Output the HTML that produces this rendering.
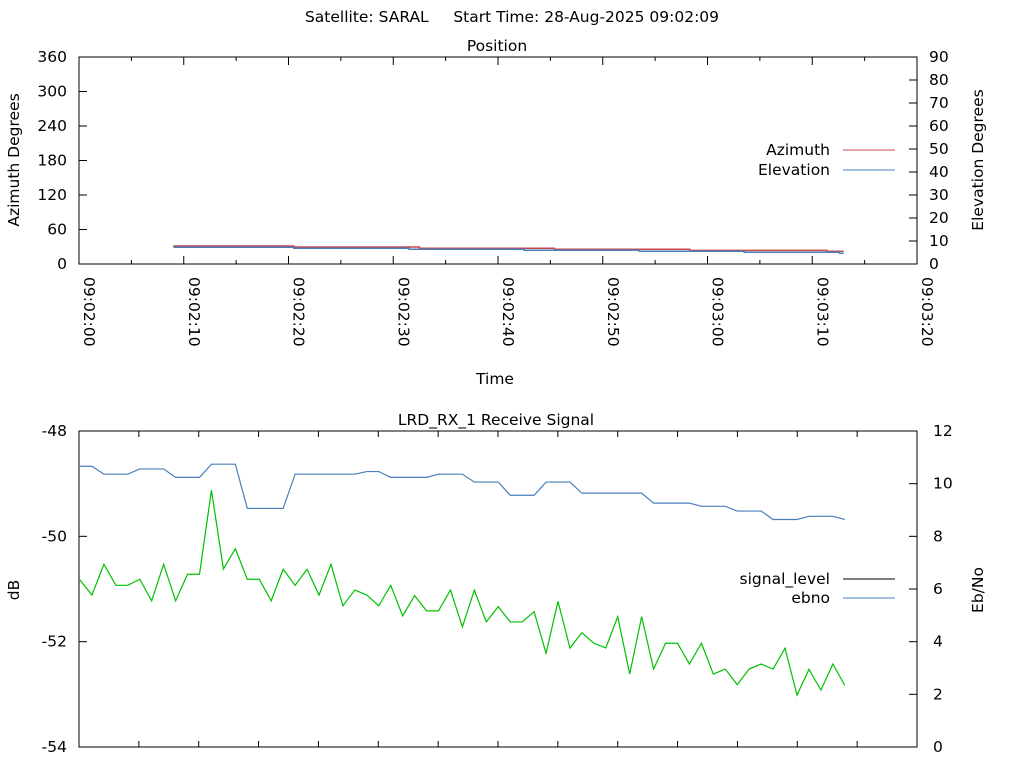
<!DOCTYPE html>
<html><head><meta charset="utf-8"><style>
body{margin:0;background:#fff;}
svg{display:block;font-family:"DejaVu Sans","Liberation Sans",sans-serif;font-size:15.5px;}
text{white-space:pre;}
</style></head><body>
<svg id="c" width="1024" height="768" xmlns="http://www.w3.org/2000/svg">
<text x="512" y="22" text-anchor="middle" xml:space="preserve">Satellite: SARAL     Start Time: 28-Aug-2025 09:02:09</text>
</svg>
<script>
// ---- Position chart data ----
const azBreaks=[9,20.5,32.5,45.4,58.3,71.4,73];
const azValues=[31.3,29.6,27.3,25.6,23.8,22.1];
const elBreaks=[9,20.5,31.5,42.5,53.5,63.5,72.6,73];
const elValues=[7.26,6.83,6.39,5.96,5.52,5.09,4.65];
const azTicks=[0,60,120,180,240,300,360];
const elTicks=[0,10,20,30,40,50,60,70,80,90];
const timeTicks=["09:02:00","09:02:10","09:02:20","09:02:30","09:02:40","09:02:50","09:03:00","09:03:10","09:03:20"];
// ---- Receive signal data ----
const signalLevel=[-48.67,-48.67,-48.82,-48.82,-48.82,-48.72,-48.72,-48.72,-48.88,-48.88,
-48.88,-48.63,-48.63,-48.63,-49.47,-49.47,-49.47,-49.47,-48.82,-48.82,
-48.82,-48.82,-48.82,-48.82,-48.77,-48.77,-48.88,-48.88,-48.88,-48.88,
-48.82,-48.82,-48.82,-48.97,-48.97,-48.97,-49.22,-49.22,-49.22,-48.97,
-48.97,-48.97,-49.18,-49.18,-49.18,-49.18,-49.18,-49.18,-49.37,-49.37,
-49.37,-49.37,-49.43,-49.43,-49.43,-49.52,-49.52,-49.52,-49.68,-49.68,
-49.68,-49.62,-49.62,-49.62,-49.68];
const ebno=[6.34,5.77,6.94,6.14,6.14,6.37,5.55,6.94,5.55,6.56,
6.56,9.75,6.76,7.53,6.37,6.37,5.55,6.75,6.14,6.75,
5.77,6.94,5.36,5.96,5.77,5.36,6.14,4.98,5.75,5.17,
5.17,5.96,4.56,5.96,4.75,5.33,4.75,4.75,5.14,3.56,
5.53,3.76,4.34,3.94,3.76,4.95,2.77,4.95,2.96,3.94,
3.94,3.15,3.94,2.77,2.96,2.37,2.96,3.15,2.96,3.75,
1.97,2.95,2.16,3.15,2.34];
const dbTicks=[-48,-50,-52,-54];
const ebTicks=[0,2,4,6,8,10,12];

const svg=document.getElementById('c');
const NS="http://www.w3.org/2000/svg";
function el(tag,attrs,parent){const e=document.createElementNS(NS,tag);for(const k in attrs)e.setAttribute(k,attrs[k]);(parent||svg).appendChild(e);return e;}
function txt(x,y,s,anchor,extra){const t=el('text',Object.assign({x:x,y:y,'text-anchor':anchor||'start'},extra||{}));t.textContent=s;return t;}

// ===== Top chart =====
const L=79,R=917,T1=57,B1=264;
const tx=t=>L+(R-L)*t/80;
const yAz=v=>B1-(B1-T1)*v/360;
const yEl=v=>B1-(B1-T1)*v/90;
let g=el('g',{});


let t=txt(497,51,'Position','middle');


azTicks.forEach(v=>{const y=yAz(v);el('line',{x1:L,x2:L+8,y1:y,y2:y,stroke:'#000'},g);
 const k=txt(67,y+5,String(v),'end');
 
 });
elTicks.forEach(v=>{const y=yEl(v);el('line',{x1:R-8,x2:R,y1:y,y2:y,stroke:'#000'},g);
 const k=txt(929,y+5,String(v),'start');
 
 });
for(let s=0;s<=80;s+=5){const x=tx(s),len=(s%10===0)?8:4;
 el('line',{x1:x,x2:x,y1:B1,y2:B1-len,stroke:'#000'},g);
 el('line',{x1:x,x2:x,y1:T1,y2:T1+len,stroke:'#000'},g);}
timeTicks.forEach((s,i)=>{const x=tx(i*10);
 const k=txt(x,277,s,'start',{transform:`rotate(90 ${x} 277)`,dy:'-5'});
 
 });
function stepPath(br,vals,yf){let d='';vals.forEach((v,i)=>{d+=(i?'L':'M')+tx(br[i])+' '+yf(v)+'L'+tx(br[i+1])+' '+yf(v);});return d;}
let p=el('path',{d:stepPath(azBreaks,azValues,yAz),fill:'none',stroke:'#c8474a','stroke-width':1.5},g);


p=el('path',{d:stepPath(elBreaks,elValues,yEl),fill:'none',stroke:'#4a7ebb','stroke-width':1.5},g);


el('rect',{x:L,y:T1,width:R-L,height:B1-T1,fill:'none',stroke:'#000'},g);
t=txt(495,384,'Time','middle');


t=txt(19,160,'Azimuth Degrees','middle',{transform:'rotate(-90 19 160)'});


t=txt(983,160,'Elevation Degrees','middle',{transform:'rotate(-90 983 160)'});


t=txt(830,155,'Azimuth','end');


el('line',{x1:843,x2:895,y1:150,y2:150,stroke:'#c8474a'},g);
t=txt(830,175,'Elevation','end');


el('line',{x1:843,x2:895,y1:170,y2:170,stroke:'#4a7ebb'},g);

// ===== Bottom chart =====
const T2=431,B2=747;
const xi=i=>80+i*11.95;
const yDb=v=>T2+(B2-T2)*(-48-v)/6;
const yEb=v=>B2-(B2-T2)*v/12;
let g2=el('g',{});


t=txt(496,425,'LRD_RX_1 Receive Signal','middle');


dbTicks.forEach(v=>{const y=yDb(v);el('line',{x1:L,x2:L+8,y1:y,y2:y,stroke:'#000'},g2);
 const k=txt(67,y+5,String(v),'end');
 
 });
ebTicks.forEach(v=>{const y=yEb(v);el('line',{x1:R-8,x2:R,y1:y,y2:y,stroke:'#000'},g2);
 const k=txt(933,y+5,String(v),'start');
 
 });
for(let k=1;k<14;k++){const x=L+(R-L)*k/14;
 el('line',{x1:x,x2:x,y1:B2,y2:B2-6,stroke:'#000'},g2);
 el('line',{x1:x,x2:x,y1:T2,y2:T2+6,stroke:'#000'},g2);}
p=el('path',{d:signalLevel.map((v,i)=>(i?'L':'M')+xi(i)+' '+yDb(v)).join(''),fill:'none',stroke:'#4a7ebb','stroke-width':1.2},g2);


p=el('path',{d:ebno.map((v,i)=>(i?'L':'M')+xi(i)+' '+yEb(v)).join(''),fill:'none',stroke:'#00c000','stroke-width':1.2},g2);


el('rect',{x:L,y:T2,width:R-L,height:B2-T2,fill:'none',stroke:'#000'},g2);
t=txt(19,590,'dB','middle',{transform:'rotate(-90 19 590)'});


t=txt(983,590,'Eb/No','middle',{transform:'rotate(-90 983 590)'});


t=txt(830,584,'signal_level','end');


el('line',{x1:843,x2:895,y1:579,y2:579,stroke:'#000'},g2);
t=txt(830,603,'ebno','end');


el('line',{x1:843,x2:895,y1:598,y2:598,stroke:'#4a7ebb'},g2);
</script>
</body></html>
